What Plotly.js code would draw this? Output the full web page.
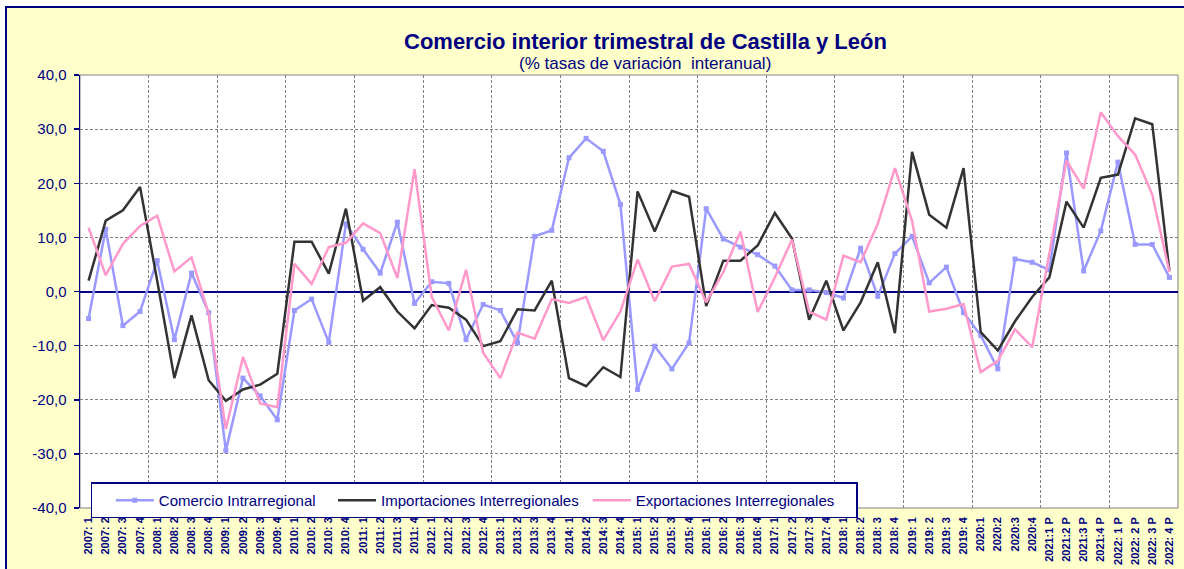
<!DOCTYPE html>
<html>
<head>
<meta charset="utf-8">
<script src="https://cdn.plot.ly/plotly-3.0.1.min.js"></script>
<style>
html, body { margin:0; padding:0; background:#ffffff; width:1184px; height:569px; overflow:hidden; }
#chart { position:absolute; left:5px; top:6px; width:1177px; height:561px;
  border-left:2px solid #000080; border-top:2px solid #000080; }
</style>
</head>
<body>
<div id="chart"></div>
<script>
// Quarter labels (categories)
const quarters = [
  "2007: 1","2007: 2","2007: 3","2007: 4",
  "2008: 1","2008: 2","2008: 3","2008: 4",
  "2009: 1","2009: 2","2009: 3","2009: 4",
  "2010: 1","2010: 2","2010: 3","2010: 4",
  "2011: 1","2011: 2","2011: 3","2011: 4",
  "2012: 1","2012: 2","2012: 3","2012: 4",
  "2013: 1","2013: 2","2013: 3","2013: 4",
  "2014: 1","2014: 2","2014: 3","2014: 4",
  "2015: 1","2015: 2","2015: 3","2015: 4",
  "2016: 1","2016: 2","2016: 3","2016: 4",
  "2017: 1","2017: 2","2017: 3","2017: 4",
  "2018: 1","2018: 2","2018: 3","2018: 4",
  "2019: 1","2019: 2","2019: 3","2019: 4",
  "2020:1","2020:2","2020:3","2020:4",
  "2021:1 P","2021:2 P","2021:3 P","2021:4 P",
  "2022: 1 P","2022: 2 P","2022: 3 P","2022: 4 P"
];

// Comercio Intrarregional (% var. interanual)
const comercioIntrarregional = [
  -5.0, 11.5, -6.3, -3.7,
  5.7, -8.9, 3.4, -3.9,
  -29.4, -16.0, -19.3, -23.7,
  -3.5, -1.4, -9.4, 12.5,
  7.8, 3.4, 12.8, -2.2,
  1.8, 1.5, -8.9, -2.4,
  -3.5, -9.5, 10.2, 11.3,
  24.7, 28.3, 25.9, 16.1,
  -18.1, -10.1, -14.3, -9.5,
  15.3, 9.7, 8.2, 6.8,
  4.7, 0.3, 0.3, -0.2,
  -1.2, 8.0, -0.9, 7.0,
  10.2, 1.6, 4.5, -3.9,
  -8.1, -14.3, 6.0, 5.4,
  4.0, 25.6, 3.8, 11.2,
  23.9, 8.7, 8.7, 2.6
];

// Importaciones Interregionales
const importacionesInterregionales = [
  2.0, 13.1, 15.0, 19.3,
  2.0, -16.0, -4.4, -16.4,
  -20.2, -18.1, -17.2, -15.2,
  9.2, 9.2, 3.3, 15.3,
  -1.7, 0.8, -3.7, -6.8,
  -2.5, -3.0, -5.2, -10.1,
  -9.2, -3.3, -3.5, 2.0,
  -16.0, -17.5, -14.0, -15.8,
  18.5, 11.1, 18.6, 17.5,
  -2.7, 5.7, 5.7, 8.5,
  14.5, 9.8, -5.2, 2.0,
  -7.2, -2.0, 5.4, -7.7,
  25.8, 14.2, 11.8, 22.8,
  -7.5, -10.9, -5.5, -1.0,
  2.6, 16.6, 11.8, 21.0,
  21.6, 32.0, 30.9, 3.8
];

// Exportaciones Interregionales
const exportacionesInterregionales = [
  11.8, 3.0, 8.8, 12.1,
  14.0, 3.7, 6.3, -4.1,
  -25.4, -12.1, -20.7, -21.4,
  5.1, 1.4, 8.2, 9.0,
  12.6, 10.8, 2.5, 22.6,
  -1.0, -7.2, 4.0, -11.3,
  -16.0, -7.6, -8.7, -1.4,
  -2.1, -1.0, -9.0, -3.7,
  5.9, -1.8, 4.6, 5.1,
  -2.0, 3.6, 11.1, -3.8,
  2.6, 9.6, -3.7, -5.2,
  6.6, 5.4, 12.5, 22.8,
  13.0, -3.7, -3.2, -2.3,
  -14.9, -12.8, -7.0, -10.3,
  7.0, 24.2, 19.0, 33.1,
  28.7, 25.3, 17.9, 3.6
];

const seriesNames = ["Comercio Intrarregional", "Importaciones Interregionales", "Exportaciones Interregionales"];
const yTickValues = [-40, -30, -20, -10, 0, 10, 20, 30, 40];
const yTickLabels = ["-40,0", "-30,0", "-20,0", "-10,0", "0,0", "10,0", "20,0", "30,0", "40,0"];
const titleText = "Comercio interior trimestral de Castilla y León";
const subtitleText = "(% tasas de variación\u00a0 interanual)";

const NAVY = "#000080";
const FONT = "Liberation Sans, Arial, sans-serif";
const nb = n => "\u00a0".repeat(n);

// position index of each quarter on the axis
const qIndex = quarters.map((q, i) => i);
const xRange = [-0.5, quarters.length - 0.5];

const traces = [
  { x: qIndex, y: comercioIntrarregional, name: seriesNames[0] + nb(3), type: "scatter", mode: "lines+markers",
    line: { color: "#9999FF", width: 2.5 }, marker: { symbol: "square", size: 5, color: "#9999FF" } },
  { x: qIndex, y: importacionesInterregionales, name: seriesNames[1] + nb(1), type: "scatter", mode: "lines",
    line: { color: "#333333", width: 2.5 } },
  { x: qIndex, y: exportacionesInterregionales, name: seriesNames[2] + nb(4), type: "scatter", mode: "lines",
    line: { color: "#FF99CC", width: 2.5 } },
  { x: [], y: [], xaxis: "x2", yaxis: "y", type: "scatter", mode: "lines", showlegend: false, hoverinfo: "skip" }
];

const layout = {
  width: 1177, height: 561,
  margin: { l: 73, r: 6, t: 67, b: 61 },
  paper_bgcolor: "#FFFFCC",
  plot_bgcolor: "#FFFFFF",
  font: { family: FONT, color: NAVY },
  showlegend: true,
  // main x axis: year-boundary gridlines only
  xaxis: {
    type: "linear", range: xRange, autorange: false,
    tickmode: "linear", tick0: -0.5, dtick: 4,
    showticklabels: false, ticks: "",
    showgrid: true, gridcolor: "#808080", gridwidth: 1, griddash: "3px,2px",
    zeroline: false, showline: false
  },
  // overlay x axis: quarter labels
  xaxis2: {
    type: "linear", overlaying: "x", anchor: "y", side: "bottom",
    range: xRange, autorange: false,
    tickmode: "array", tickvals: qIndex, ticktext: quarters,
    tickangle: -90, ticklabelstandoff: 6,
    tickfont: { family: FONT, size: 11, color: NAVY, weight: "bold" },
    showgrid: false, zeroline: false, showline: false, ticks: ""
  },
  yaxis: {
    range: [-40, 40],
    tickmode: "array", tickvals: yTickValues, ticktext: yTickLabels,
    tickfont: { family: FONT, size: 15, color: NAVY },
    ticks: "outside", ticklen: 5, tickcolor: NAVY, tickwidth: 1.5, ticklabelstandoff: 4,
    showline: true, linecolor: NAVY, linewidth: 1.5,
    showgrid: true, gridcolor: "#808080", gridwidth: 1, griddash: "3px,2px",
    zeroline: true, zerolinecolor: NAVY, zerolinewidth: 2
  },
  shapes: [
    { type: "rect", xref: "paper", yref: "paper", x0: 0, x1: 1, y0: 0, y1: 1,
      line: { color: "#808080", width: 1 }, layer: "below" }
  ],
  legend: {
    orientation: "h", x: 0.010, xanchor: "left", y: 0.059, yanchor: "top",
    bgcolor: "#FFFFFF", bordercolor: NAVY, borderwidth: 1.5,
    itemwidth: 38,
    title: { text: nb(2), side: "left", font: { family: FONT, size: 15 } },
    font: { family: FONT, size: 15, color: NAVY }
  },
  annotations: [
    { text: "<b>" + titleText + "</b>", xref: "paper", yref: "paper", x: 0.5146, y: 1.0785,
      xanchor: "center", yanchor: "middle", showarrow: false,
      font: { family: FONT, size: 22, color: NAVY } },
    { text: subtitleText, xref: "paper", yref: "paper", x: 0.5146, y: 1.0277,
      xanchor: "center", yanchor: "middle", showarrow: false,
      font: { family: FONT, size: 17, color: NAVY } }
  ]
};

Plotly.newPlot("chart", traces, layout, { displayModeBar: false, staticPlot: true });
</script>
</body>
</html>
